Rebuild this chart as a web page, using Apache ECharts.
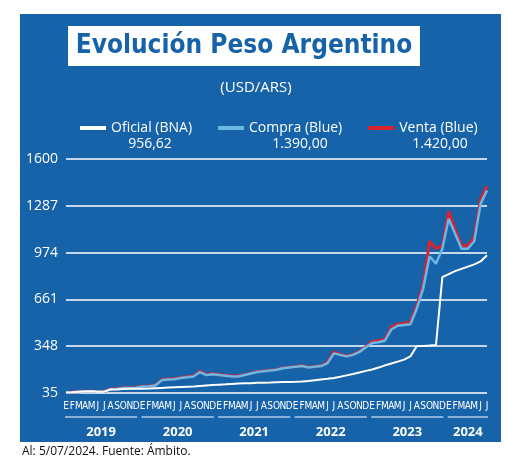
<!DOCTYPE html>
<html><head><meta charset="utf-8">
<script src="https://cdn.jsdelivr.net/npm/echarts@6/dist/echarts.min.js"></script>
<style>body{margin:0;background:#fff}#c{width:520px;height:475px}</style>
</head><body><div id="c"></div>
<script>
const monthLetters = ['E','F','M','A','M','J','J','A','S','O','N','D'];
const years = ['2019','2020','2021','2022','2023','2024'];
const categories = [];
years.forEach(y => monthLetters.forEach((m, i) => { if (y !== '2024' || i < 7) categories.push(m); }));
const oficial = [38,40,43,45,46,44,44,58,59,62,63,63,
  64,65,67,69,71,73,75,77,79,82,85,88,
  91,93,96,98,100,101,103,104,105,107,108,109,
  110,112,115,120,125,130,136,144,153,162,172,183,
  192,205,220,232,245,258,280,350,350,352,356,810,
  830,850,865,880,895,915,956.62];
const compra = [38,40,43,45,46,44,44,60,62,68,68,70,
  78,80,85,120,125,127,135,140,145,175,155,160,
  155,150,145,145,155,165,175,180,185,190,200,205,
  210,215,205,210,215,235,300,290,280,290,310,340,
  370,375,385,460,485,490,495,600,735,950,900,1000,
  1200,1100,1000,1000,1050,1300,1390];
const venta = [39,41,44,46,47,45,45,62,64,70,70,72,
  80,82,87,123,128,130,138,143,148,180,158,163,
  158,153,148,148,158,168,178,183,188,193,203,208,
  213,218,208,213,218,240,310,293,283,293,313,345,
  380,385,395,475,495,500,510,620,760,1050,1000,1020,
  1250,1130,1020,1020,1080,1330,1420];
const yTicks = [35,348,661,974,1287,1600];
const legendNames = ['Oficial (BNA)','Compra (Blue)','Venta (Blue)'];
const legendValues = ['956,62','1.390,00','1.420,00'];

const chart = echarts.init(document.getElementById('c'));
const BG = '#1763aa';
const g = [
  {type:'rect',shape:{x:20,y:14,width:481,height:428},style:{fill:BG},z:-10},
  {type:'rect',shape:{x:68,y:26,width:352,height:40},style:{fill:'#fff'},z:-9},
  {type:'text',x:244,y:46,style:{text:'Evolución Peso Argentino',fill:BG,font:'bold 26px "DejaVu Sans Condensed","DejaVu Sans",sans-serif',align:'center',verticalAlign:'middle'}},
  {type:'text',x:256,y:88,style:{text:'(USD/ARS)',fill:'#fff',font:'15px "Open Sans",sans-serif',align:'center',verticalAlign:'middle'}},
  {type:'text',x:22,y:452,style:{text:'Al: 5/07/2024. Fuente: Ámbito.',fill:'#111',font:'12px "Open Sans",sans-serif',verticalAlign:'middle'}}
];
chart.setOption({
  animation:false,
  backgroundColor:'#fff',
  legend:{top:116,left:75,itemGap:26,itemWidth:26,itemHeight:4,icon:'rect',
    textStyle:{color:'#fff',fontSize:14,fontFamily:'"Open Sans",sans-serif'},
    data:legendNames.map(n=>({name:n}))},
  grid:{left:66,right:33,top:159,bottom:82},
  xAxis:{type:'category',data:categories,boundaryGap:false,
    axisLine:{show:false},axisTick:{show:false},
    axisLabel:{interval:0,color:'#fff',fontSize:10,margin:8,fontFamily:'"DejaVu Sans Condensed",sans-serif'}},
  yAxis:{type:'value',min:yTicks[0],max:yTicks[5],interval:313,
    axisLine:{show:false},axisTick:{show:false},
    axisLabel:{color:'#fff',fontSize:14,fontFamily:'"Open Sans",sans-serif',margin:8,formatter:v=>String(v)},
    splitLine:{lineStyle:{color:'#fff',width:1.5}}},
  series:[
    {name:legendNames[2],type:'line',data:venta,symbol:'none',color:'#d9232e',lineStyle:{width:3}},
    {name:legendNames[1],type:'line',data:compra,symbol:'none',color:'#6bb8e6',lineStyle:{width:2.5}},
    {name:legendNames[0],type:'line',data:oficial,symbol:'none',color:'#fff',lineStyle:{width:2}}
  ]
});
const legX = [150,300,440];
legendValues.forEach((v,i)=>g.push({type:'text',x:legX[i],y:144,style:{text:v,fill:'#fff',font:'14px "Open Sans",sans-serif',align:'center',verticalAlign:'middle'}}));
let idx = 0;
years.forEach(y => {
  const n = y === '2024' ? 7 : 12;
  const x0 = chart.convertToPixel({xAxisIndex:0}, idx) - 3;
  const x1 = chart.convertToPixel({xAxisIndex:0}, idx + n - 1) + 3;
  g.push({type:'line',shape:{x1:x0+2,y1:417,x2:x1-2,y2:417},style:{stroke:'#fff',lineWidth:1}});
  g.push({type:'text',x:(x0+x1)/2,y:432,style:{text:y,fill:'#fff',font:'bold 13px "Open Sans",sans-serif',align:'center',verticalAlign:'middle'}});
  idx += n;
});
chart.setOption({graphic: g});
</script></body></html>
